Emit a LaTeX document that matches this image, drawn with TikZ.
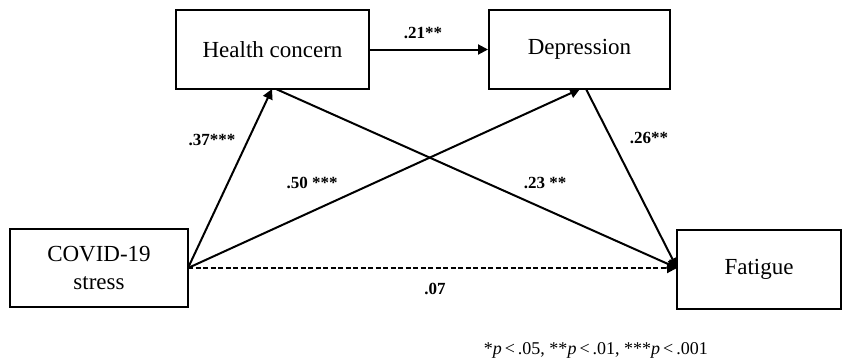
\documentclass[tikz,border=0pt]{standalone}
\usepackage{fontspec}
\setmainfont{Liberation Serif}
\usetikzlibrary{arrows.meta}
\begin{document}
\begin{tikzpicture}[x=1pt,y=-1pt,
  box/.style={draw,line width=2pt,inner sep=0pt,font=\fontsize{23}{28}\selectfont,align=center},
  arr/.style={line width=2pt,-{Triangle[length=10pt,width=10pt]}},
  lab/.style={font=\bfseries\fontsize{17}{20}\selectfont,inner sep=1pt}]
\useasboundingbox (0,0) rectangle (842,362);
\node[box,minimum width=193pt,minimum height=79pt] (hc) at (272.5,49.5) {Health concern};
\node[box,minimum width=181pt,minimum height=79pt] (dep) at (579.5,49.5) {Depression};
\node[box,minimum width=178pt,minimum height=78pt] (cov) at (99,268) {COVID-19\\stress};
\node[box,minimum width=164pt,minimum height=79pt] (fat) at (759,269.5) {Fatigue};
\coordinate (cs) at (188,268);
\coordinate (fe) at (677,268);
\coordinate (hcb) at (272,89);
\coordinate (hcs) at (276,89);
\coordinate (depb) at (580,89);
\coordinate (deps) at (586,89);
\draw[arr] (hc.east) -- (dep.west);
\draw[arr] (cs) -- (hcb);
\draw[arr] (cs) -- (depb);
\draw[arr] (hcs) -- (fe);
\draw[arr] (deps) -- (fe);
\draw[arr,dash pattern=on 5pt off 2.5pt] (cs) -- (fe);
\node[lab] (l21) at (423,33) {.21**};
\node[lab] (l37) at (212,140) {.37***};
\node[lab] (l50) at (312,183) {.50 ***};
\node[lab] (l23) at (545,183) {.23 **};
\node[lab] (l26) at (649,138) {.26**};
\node[lab] (l07) at (435,289) {.07};
\node[font=\fontsize{18}{21}\selectfont,anchor=east,inner sep=0pt] (note) at (708,350) {*\textit{p}\,<\,.05, **\textit{p}\,<\,.01, ***\textit{p}\,<\,.001};
\end{tikzpicture}
\end{document}
